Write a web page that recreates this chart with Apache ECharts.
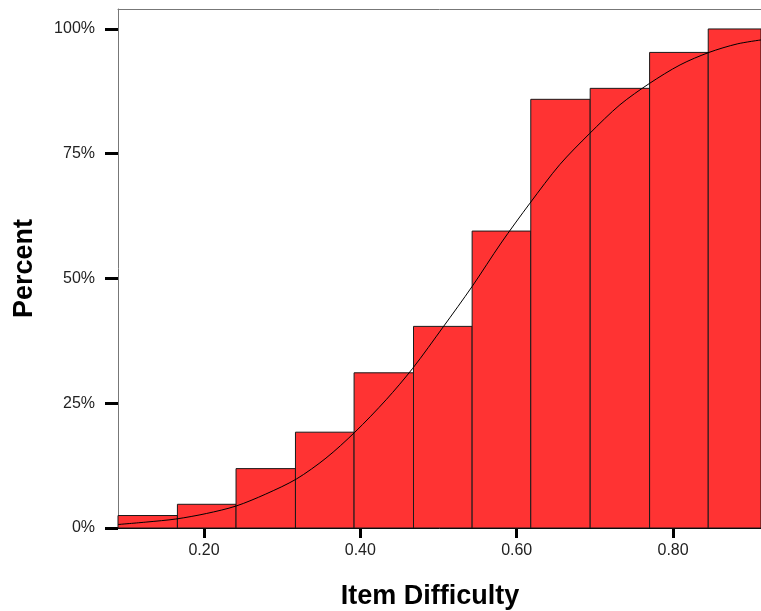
<!DOCTYPE html>
<html>
<head>
<meta charset="utf-8">
<script src="https://cdn.jsdelivr.net/npm/echarts@6/dist/echarts.min.js"></script>
<style>
  html, body { margin: 0; padding: 0; background: #fff; }
  #main { width: 761px; height: 611px; }
</style>
</head>
<body>
<div id="main"></div>
<script>
// cumulative histogram of item difficulty
var binEdges = [0.090, 0.166, 0.241, 0.317, 0.392, 0.468, 0.543, 0.618, 0.694, 0.770, 0.845, 0.921];
var cumPercent = [2.5, 4.75, 11.9, 19.2, 31.1, 40.4, 59.5, 85.9, 88.1, 95.3, 100];

// normal curve
var curveX = [0.090, 0.127, 0.164, 0.203, 0.241, 0.279, 0.318, 0.356, 0.393, 0.433, 0.467, 0.506,
              0.543, 0.580, 0.617, 0.655, 0.693, 0.732, 0.770, 0.809, 0.846, 0.882, 0.9125];
var curveY = [0.7, 1.2, 1.8, 2.9, 4.4, 6.8, 9.8, 14.0, 19.2, 25.7, 32.0, 40.3,
              48.4, 57.1, 65.1, 72.8, 79.0, 84.8, 89.1, 92.8, 95.3, 97.0, 97.8];

var xTicks = [0.2, 0.4, 0.6, 0.8];
var yTicks = [0, 25, 50, 75, 100];

showchart();
function showchart(){
    var bars = [], curve = [], font = 'Liberation Sans, Arial, sans-serif';

    for (var i = 0; i < cumPercent.length; i++) {
        bars.push([binEdges[i], binEdges[i + 1], cumPercent[i]]);
    }
    for (var j = 0; j < curveX.length; j++) {
        curve.push([curveX[j], curveY[j]]);
    }

    var myChart = echarts.init(document.getElementById('main'), null, { renderer: 'canvas' }),
        option = {
        animation: false,
        grid: { left: 118, right: 0, top: 9, bottom: 83, outerBoundsMode: 'none', containLabel: false },
        xAxis: [{
            type: 'value', min: 0.09, max: 0.9125,
            name: 'Item Difficulty', nameLocation: 'middle', nameGap: 55,
            nameTextStyle: { fontFamily: font, fontSize: 27, fontWeight: 'bold', color: '#000', padding: [0, 19, 0, 0] },
            axisLine: { lineStyle: { color: '#000', width: 1 } },
            axisTick: { customValues: xTicks, length: 10, lineStyle: { color: '#000', width: 3 } },
            axisLabel: { customValues: xTicks, margin: 15, fontFamily: font, fontSize: 16, color: '#222',
                         formatter: function(v){ return v.toFixed(2); } },
            splitLine: { show: false }
        }, {
            type: 'value', min: 0.09, max: 0.9125, position: 'top',
            axisLine: { lineStyle: { color: '#777', width: 1 } },
            axisTick: { show: false }, axisLabel: { show: false }, splitLine: { show: false }
        }],
        yAxis: {
            type: 'value', min: 0, max: 104,
            name: 'Percent', nameLocation: 'middle', nameGap: 80,
            nameTextStyle: { fontFamily: font, fontSize: 27, fontWeight: 'bold', color: '#000' },
            axisLine: { show: true, lineStyle: { color: '#777', width: 1 } },
            axisTick: { customValues: yTicks, length: 13, lineStyle: { color: '#000', width: 3 } },
            axisLabel: { customValues: yTicks, margin: 23, fontFamily: font, fontSize: 16, color: '#222', formatter: '{value}%' },
            splitLine: { show: false }
        },
        series: [{
            type: 'custom', data: bars, z: 2,
            encode: { x: [0, 1], y: 2 },
            renderItem: function(params, api){
                var p0 = api.coord([api.value(0), 0]),
                    p1 = api.coord([api.value(1), api.value(2)]),
                    shape = echarts.graphic.clipRectByRect({
                        x: p0[0], y: p1[1], width: p1[0] - p0[0], height: p0[1] - p1[1]
                    }, params.coordSys);
                if (!shape) return;
                return { type: 'rect', shape: shape, style: { fill: '#ff3333', stroke: '#1a1a1a', lineWidth: 1 } };
            }
        }, {
            type: 'line', data: curve, z: 3, smooth: 0.3, showSymbol: false,
            lineStyle: { color: '#000', width: 1 }
        }]
    };

    myChart.setOption(option);
}
</script>
</body>
</html>
